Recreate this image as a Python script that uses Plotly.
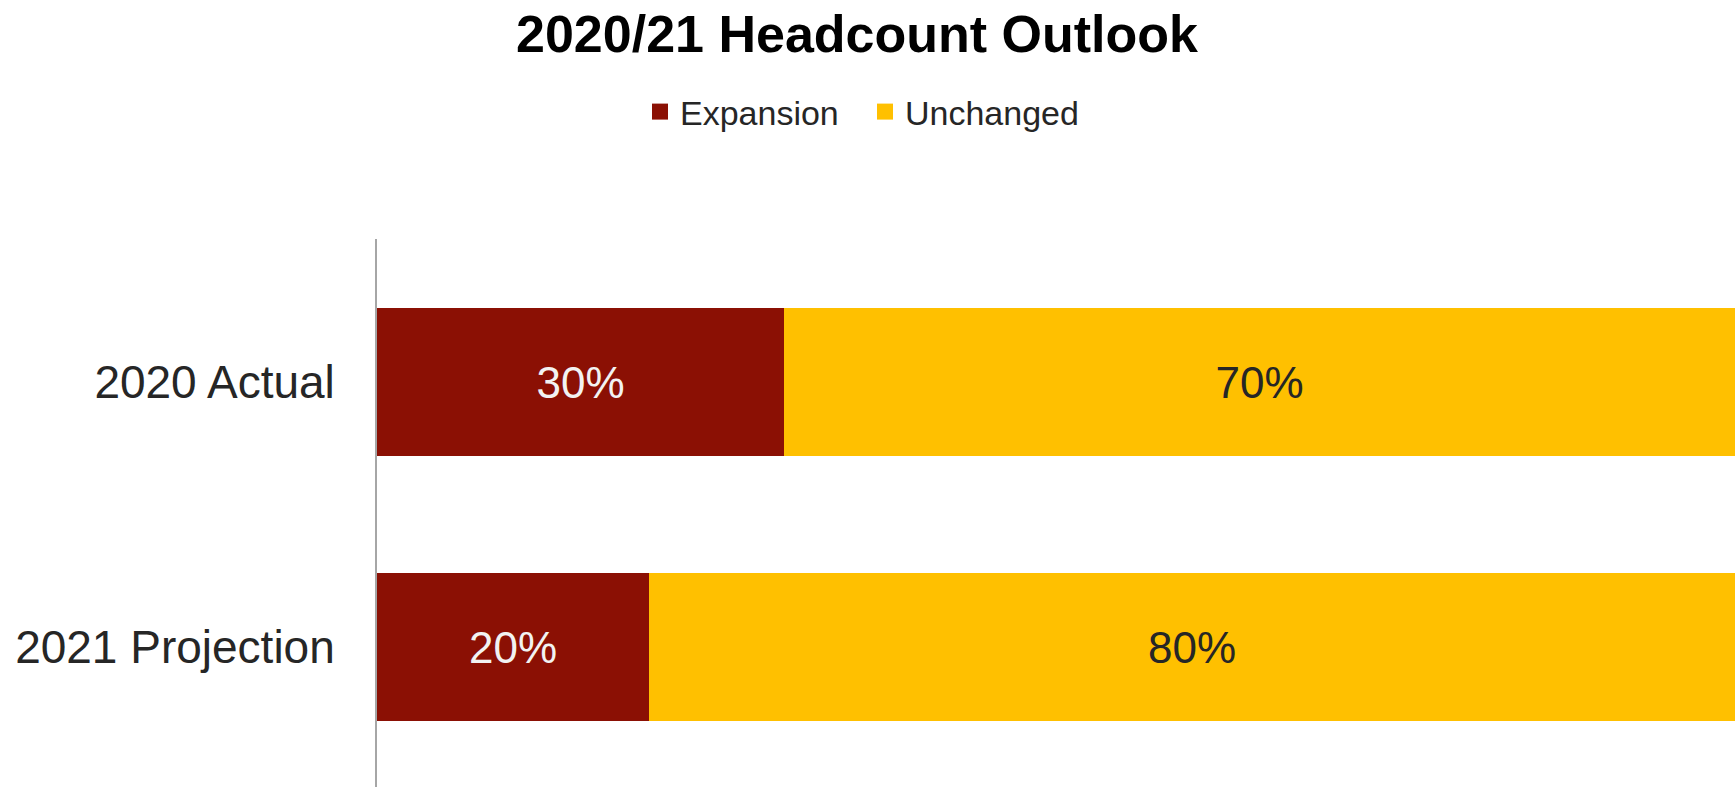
import plotly.graph_objects as go

# Headcount outlook shares (fraction of respondents)
categories = ["2020 Actual", "2021 Projection"]
expansion = [0.30, 0.20]
unchanged = [0.70, 0.80]

series_names = ["Expansion", "Unchanged"]
series_colors = ["#8B1004", "#FFC000"]
label_colors = ["#F2F2F2", "#262626"]

W, H = 1735, 787
FONT = "Liberation Sans, Arial, Helvetica, sans-serif"

fig = go.Figure()

for name, vals, color, lab_col in zip(series_names, [expansion, unchanged], series_colors, label_colors):
    fig.add_trace(go.Bar(
        y=categories,
        x=vals,
        orientation="h",
        name=name,
        marker=dict(color=color, line=dict(width=0)),
        width=0.56,
        text=[f"{v:.0%}" for v in vals],
        textposition="inside",
        insidetextanchor="middle",
        textangle=0,
        textfont=dict(family=FONT, size=44, color=lab_col),
        showlegend=False,
        hoverinfo="skip",
    ))

# legend entries with larger square swatches
for name, color in zip(series_names, series_colors):
    fig.add_trace(go.Scatter(
        x=[None], y=[None], mode="markers", name=name,
        marker=dict(symbol="square", size=16, color=color),
        showlegend=True,
    ))

fig.update_layout(
    width=W, height=H,
    barmode="stack",
    bargap=0,
    plot_bgcolor="white",
    paper_bgcolor="white",
    margin=dict(l=377, r=0, t=239, b=0),
    title=dict(
        text="<b>2020/21 Headcount Outlook</b>",
        font=dict(family=FONT, size=52, color="#000000"),
        x=857 / W, xanchor="center", xref="container",
        y=1 - 34 / H, yanchor="middle", yref="container",
    ),
    legend=dict(
        orientation="h",
        traceorder="normal",
        xref="container", yref="container",
        x=640 / W, xanchor="left",
        y=1 - 112 / H, yanchor="middle",
        font=dict(family=FONT, size=34, color="#262626"),
        itemwidth=30,
        entrywidth=180,
        bgcolor="rgba(0,0,0,0)",
    ),
    xaxis=dict(
        range=[0, 1.0],
        showgrid=False, zeroline=False, showticklabels=False,
        showline=False, ticks="",
    ),
    yaxis=dict(
        type="category",
        range=[1.531, -0.541],
        showgrid=False, zeroline=False,
        showline=True, linecolor="#A6A6A6", linewidth=2,
        ticks="",
        ticklabelstandoff=31,
        tickfont=dict(family=FONT, size=46, color="#262626"),
    ),
)

fig.write_html("out.html")
